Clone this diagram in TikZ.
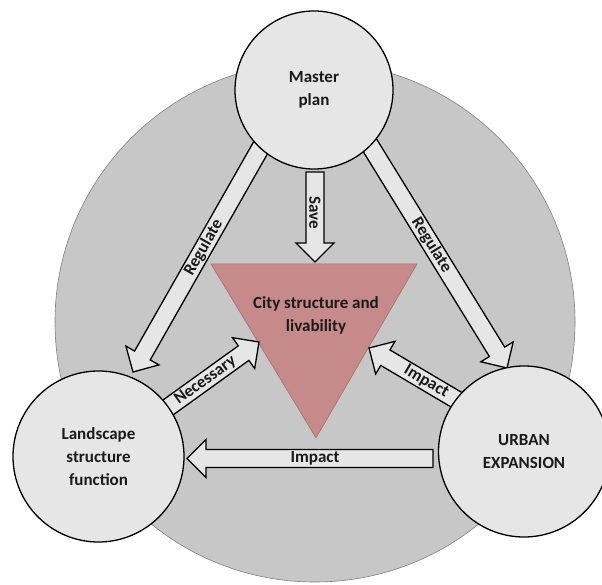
\documentclass[tikz,border=0pt]{standalone}
\usepackage{fontspec}
\setmainfont{Carlito}
\usetikzlibrary{calc}
\definecolor{bggray}{HTML}{C7C7C7}
\definecolor{bgline}{HTML}{808080}
\definecolor{light}{HTML}{E6E6E6}
\definecolor{rose}{HTML}{C78A8A}
\definecolor{roseline}{HTML}{9A6B6B}
\definecolor{ink}{HTML}{1A1A1A}
\newcommand\bahl{19pt}
\newcommand\basw{9pt}
\newcommand\bahw{19pt}
% #1 tail, #2 tip, #3 label, #4 label options
\newcommand\blockarrow[4]{%
  \coordinate (hb) at ($(#2)!\bahl!(#1)$);
  \draw[arrowbox] ($(#1)!\basw!90:(#2)$) -- ($(hb)!\basw!-90:(#1)$) -- ($(hb)!\bahw!-90:(#1)$) -- (#2)
     -- ($(hb)!\bahw!90:(#1)$) -- ($(hb)!\basw!90:(#1)$) -- ($(#1)!\basw!-90:(#2)$) -- cycle;
  \path (#1) -- (hb) node[arrowlabel,#4] {#3};
}
\begin{document}
\begin{tikzpicture}[x=1pt,y=-1pt,
  txt/.style={font=\bfseries\fontsize{17}{23}\selectfont, text=ink, align=center},
  bubble/.style={circle, draw=black, line width=1.3pt, fill=light, inner sep=0pt, txt},
  arrowbox/.style={draw=black, line width=1.3pt, fill=light, line join=miter},
  arrowlabel/.style={txt, midway, sloped, inner sep=0pt}]
\useasboundingbox (0,0) rectangle (602,585);
% background disc
\draw[fill=bggray, draw=bgline, line width=0.6pt] (315,322) circle[radius=260pt];
% central triangle
\draw[fill=rose, draw=roseline, line width=0.5pt] (211,264) -- (417,264) -- (316,438) -- cycle;
\node[txt] (city) at (316,315.5) {City structure and\\livability};
% arrow end points
\coordinate (rlT) at (265,140);   \coordinate (rlH) at (133,372);
\coordinate (rrT) at (366,139);   \coordinate (rrH) at (507,368);
\coordinate (svT) at (315,172);   \coordinate (svH) at (315,262);
\coordinate (neT) at (159,414);   \coordinate (neH) at (259,342);
\coordinate (imT) at (467,406);   \coordinate (imH) at (369,348);
\coordinate (ibT) at (433,458.5); \coordinate (ibH) at (187,458.5);
% block arrows
\blockarrow{rlT}{rlH}{Regulate}{pos=0.5}
\blockarrow{rrT}{rrH}{Regulate}{pos=0.5}
\blockarrow{svT}{svH}{Save}{sloped=false, rotate=-90, pos=0.57}
\blockarrow{neT}{neH}{Necessary}{pos=0.55}
\blockarrow{imT}{imH}{Impact}{pos=0.5}
\blockarrow{ibT}{ibH}{Impact}{pos=0.52}
% circles
\node[bubble, minimum size=158pt] (mp) at (314,90) {Master\\plan};
\node[bubble, minimum size=171pt] (ls) at (98.5,456.5) {Landscape\\structure\\function};
\node[bubble, minimum size=171pt] (ue) at (524,451.5) {URBAN\\EXPANSION};
\end{tikzpicture}
\end{document}
